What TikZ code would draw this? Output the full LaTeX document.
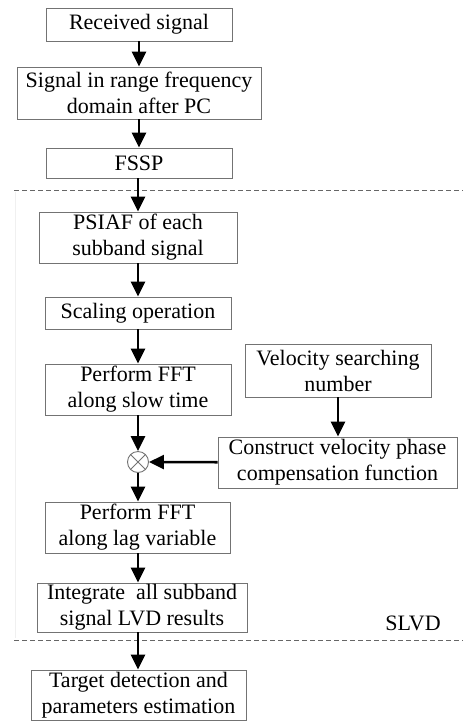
\documentclass[tikz,border=0pt]{standalone}
\usepackage{fontspec}
\setmainfont{Liberation Serif}
\usetikzlibrary{arrows.meta}
\begin{document}
\begin{tikzpicture}[x=1pt,y=-1pt,
  box/.style={draw=black!55, line width=0.9pt, align=center, inner sep=0pt,
    font=\fontsize{22}{26}\selectfont, text=black},
  flow/.style={line width=2.6pt, -{Triangle[length=15pt,width=14pt]}},
  sep/.style={draw=black!60, line width=0.7pt, dash pattern=on 5pt off 3pt}]
\useasboundingbox (0,0) rectangle (463,721);
\fill[white] (0,0) rectangle (463,721);
\draw[black!6, line width=0.8pt] (15,192) -- (15,638);
\node[box, minimum width=186, minimum height=33] (b1) at (139,24.5) {Received signal};
\node[box, minimum width=244, minimum height=52] (b2) at (139,93) {Signal in range frequency\\domain after PC};
\node[box, minimum width=186, minimum height=30] (b3) at (139,163) {FSSP};
\node[box, minimum width=198, minimum height=51] (b4) at (138,237.5) {PSIAF of each\\subband signal};
\node[box, minimum width=186, minimum height=32] (b5) at (138,313) {Scaling operation};
\node[box, minimum width=186, minimum height=51] (b6) at (138,389.5) {Perform FFT\\along slow time};
\node[box, minimum width=186, minimum height=53] (bv) at (338,370.5) {Velocity searching\\number};
\node[box, minimum width=239, minimum height=51] (bc) at (337.5,462.5) {Construct velocity phase\\compensation function};
\node[draw=black!55, line width=0.9pt, circle, minimum size=21, inner sep=0pt] (ot) at (138,462) {};
\draw[black!55, line width=0.9pt] (ot.north west) -- (ot.south east) (ot.north east) -- (ot.south west);
\node[box, minimum width=185, minimum height=51] (b7) at (137.5,527.5) {Perform FFT\\along lag variable};
\node[box, minimum width=210, minimum height=49] (b8) at (142,607.5) {Integrate\ \ all subband\\signal LVD results};
\node[box, minimum width=215, minimum height=50] (b9) at (138.5,695) {Target detection and\\parameters estimation};
\node[font=\fontsize{22}{26}\selectfont] (slvd) at (413,623) {SLVD};
\coordinate (d1a) at (14,190);
\coordinate (d1b) at (463,190);
\coordinate (d2a) at (14,640);
\coordinate (d2b) at (463,640);
\draw[sep] (d1a) -- (d1b);
\draw[sep] (d2a) -- (d2b);
\draw[flow] (b1) -- (b2);
\draw[flow] (b2) -- (b3);
\draw[flow] (b3.south -| b4) -- (b4);
\draw[flow] (b4) -- (b5);
\draw[flow] (b5) -- (b6);
\draw[flow] (b6) -- (ot);
\draw[flow] (bv) -- (bv |- bc.north);
\draw[flow] (bc) -- (ot);
\draw[flow] (ot) -- (ot |- b7.north);
\draw[flow] (b7.south -| ot) -- (ot |- b8.north);
\draw[flow] (b8.south -| ot) -- (ot |- b9.north);
\end{tikzpicture}
\end{document}
